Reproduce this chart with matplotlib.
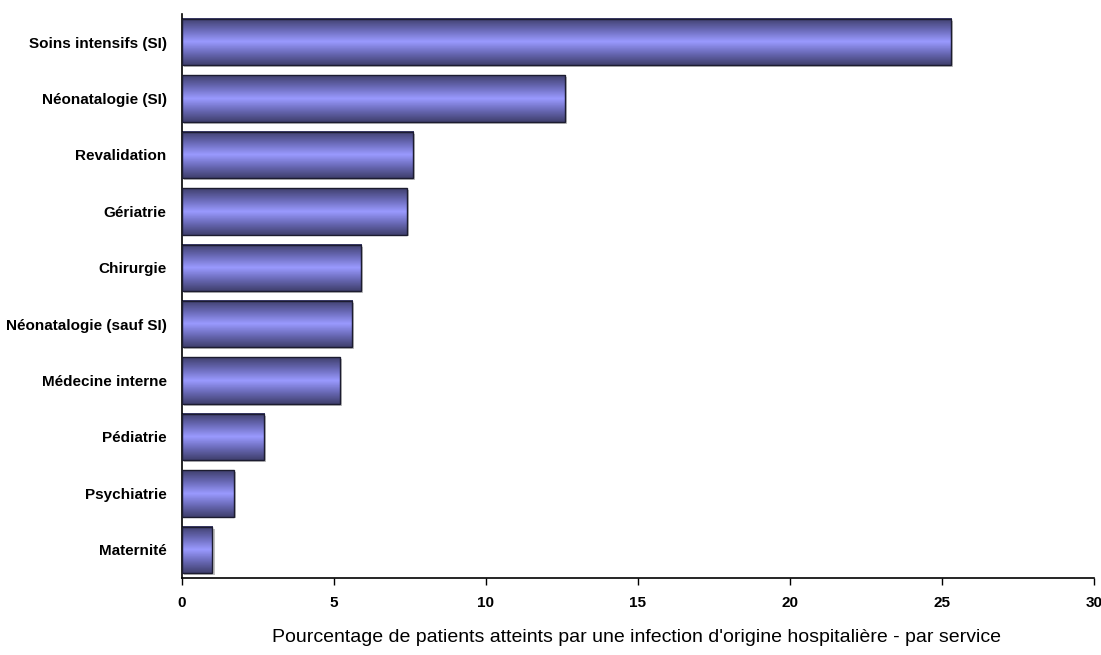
import numpy as np
import matplotlib
matplotlib.use("Agg")
import matplotlib.pyplot as plt
from matplotlib.colors import LinearSegmentedColormap

services = ["Soins intensifs (SI)", "Néonatalogie (SI)", "Revalidation", "Gériatrie",
            "Chirurgie", "Néonatalogie (sauf SI)", "Médecine interne", "Pédiatrie",
            "Psychiatrie", "Maternité"]
pourcentages = [25.3, 12.6, 7.6, 7.4, 5.9, 5.6, 5.2, 2.7, 1.7, 1.0]
xticks = [0, 5, 10, 15, 20, 25, 30]

plt.rcParams["font.family"] = ["Liberation Sans", "DejaVu Sans"]

fig = plt.figure(figsize=(11.01, 6.55), dpi=100)
ax = fig.add_axes([182 / 1101, 1 - 578 / 655, (1094 - 182) / 1101, (578 - 14) / 655])

ypos = np.arange(len(services))
bars = ax.barh(ypos, pourcentages, height=0.82, facecolor="none",
               edgecolor="#1c1c30", linewidth=1.0, zorder=3)

# vertical gradient: dark edges, light middle
cmap = LinearSegmentedColormap.from_list(
    "barre", ["#40406e", "#6a6ab8", "#9a9aff", "#6a6ab8", "#40406e"])
grad = np.linspace(0, 1, 64).reshape(-1, 1)
for b in bars:
    x0, y0 = b.get_x(), b.get_y()
    w, h = b.get_width(), b.get_height()
    # shadow (y axis is inverted, so +y goes down)
    ax.add_patch(plt.Rectangle((x0 + 0.07, y0 + 0.035), w, h, facecolor="#c0c0c0",
                               edgecolor="none", zorder=1))
    ax.imshow(grad, extent=[x0, x0 + w, y0, y0 + h], aspect="auto", cmap=cmap,
              origin="lower", zorder=2, interpolation="bilinear")

ax.set_xlim(0, 30)
ax.set_ylim(len(services) - 0.5, -0.5)
ax.set_xticks(xticks)
ax.set_xticklabels([str(t) for t in xticks], fontsize=11, fontweight="bold")
ax.set_yticks(ypos)
ax.set_yticklabels(services, fontsize=11, fontweight="bold")
ax.tick_params(axis="y", length=0, pad=11)
ax.tick_params(axis="x", length=5, width=1, pad=8)
ax.spines["top"].set_visible(False)
ax.spines["right"].set_visible(False)
ax.spines["left"].set_linewidth(1.2)
ax.spines["bottom"].set_linewidth(1.2)

fig.text(637 / 1101, 1 - 637 / 655,
         "Pourcentage de patients atteints par une infection d'origine hospitalière - par service",
         fontsize=14, ha="center", va="center")

fig.savefig("out.png", dpi=100)
